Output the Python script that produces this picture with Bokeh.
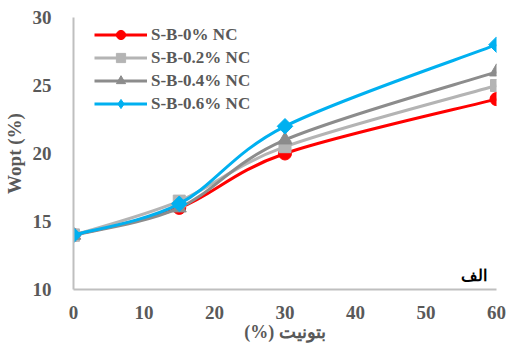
import math
from bokeh.plotting import figure
from bokeh.models import ColumnDataSource, Range1d, Legend, LegendItem, Label, FixedTicker
from bokeh.embed import file_html
from bokeh.resources import INLINE

bentonite = [0, 15, 30, 60]
s0 = [14, 16, 20, 24]
s02 = [14, 16.5, 20.5, 25]
s04 = [14, 16, 21, 26]
s06 = [14, 16.3, 22, 28]
names = ["S-B-0% NC", "S-B-0.2% NC", "S-B-0.4% NC", "S-B-0.6% NC"]
series = [s0, s02, s04, s06]
colors = ["#FF0000", "#B4B4B4", "#8C8C8C", "#00B0F0"]
markers = ["circle", "square", "triangle", "square"]
legend_markers = ["circle", "square", "triangle", "diamond"]
angles = [0, 0, 0, math.pi / 4]
msizes = [13, 12, 14, 11]
legend_sizes = [13, 12, 14, 15]
x_ticks = [0, 10, 20, 30, 40, 50, 60]
y_ticks = [10, 15, 20, 25, 30]

def smooth_segments(xs, ys):
    # Catmull-Rom style Bezier segments (like a spreadsheet "smoothed line")
    n = len(xs)
    out = dict(x0=[], y0=[], x1=[], y1=[], cx0=[], cy0=[], cx1=[], cy1=[])
    for i in range(n - 1):
        xp, yp = (xs[i - 1], ys[i - 1]) if i > 0 else (xs[i], ys[i])
        xn, yn = (xs[i + 2], ys[i + 2]) if i + 2 < n else (xs[i + 1], ys[i + 1])
        out["x0"].append(xs[i]); out["y0"].append(ys[i])
        out["x1"].append(xs[i + 1]); out["y1"].append(ys[i + 1])
        out["cx0"].append(xs[i] + (xs[i + 1] - xp) / 6)
        out["cy0"].append(ys[i] + (ys[i + 1] - yp) / 6)
        out["cx1"].append(xs[i + 1] - (xn - xs[i]) / 6)
        out["cy1"].append(ys[i + 1] - (yn - ys[i]) / 6)
    return out

p = figure(width=511, height=349, output_backend="svg", toolbar_location=None,
           x_range=Range1d(0, 60), y_range=Range1d(10, 30),
           min_border_left=72, min_border_right=15, min_border_top=17, min_border_bottom=60)
p.outline_line_color = None
p.xgrid.grid_line_color = None
p.ygrid.grid_line_color = None
p.background_fill_color = "white"

font = "Liberation Serif"
for ax in (p.xaxis[0], p.yaxis[0]):
    ax.axis_line_color = "#BFBFBF"
    ax.axis_line_width = 2
    ax.major_tick_line_color = None
    ax.minor_tick_line_color = None
    ax.major_label_text_font = font
    ax.major_label_text_font_style = "bold"
    ax.major_label_text_font_size = "19px"
    ax.major_label_text_color = "#595959"
    ax.axis_label_text_font = font
    ax.axis_label_text_font_style = "bold"
    ax.axis_label_text_color = "#595959"
    ax.axis_label_text_font_size = "19px"

p.xaxis.ticker = FixedTicker(ticks=x_ticks)
p.yaxis.ticker = FixedTicker(ticks=y_ticks)
p.xaxis.major_label_standoff = 10
p.yaxis.major_label_standoff = 16
p.xaxis.axis_label = "(%) بتونیت"
p.xaxis.axis_label_standoff = 0
p.xaxis.axis_label_text_font_size = "18px"
p.yaxis.axis_label = "Wopt (%)"
p.yaxis.axis_label_standoff = 5
p.yaxis.axis_label_text_font_size = "19px"

items = []
for name, ys, c, m, lm, a, ms, ls in zip(names, series, colors, markers, legend_markers,
                                          angles, msizes, legend_sizes):
    seg = ColumnDataSource(smooth_segments(bentonite, ys))
    p.bezier(x0="x0", y0="y0", x1="x1", y1="y1", cx0="cx0", cy0="cy0", cx1="cx1", cy1="cy1",
             source=seg, line_color=c, line_width=3)
    ln = p.line(bentonite[:1], ys[:1], line_color=c, line_width=3)
    lg = p.scatter(bentonite[:1], ys[:1], marker=lm, size=ls, fill_color=c, line_color=c)
    p.scatter(bentonite, ys, marker=m, angle=a, size=ms, fill_color=c, line_color=c)
    items.append(LegendItem(label=name, renderers=[ln, lg]))

legend = Legend(items=items, location=(21, 174), background_fill_alpha=0,
                border_line_color=None, padding=0, spacing=0, margin=0,
                glyph_width=53, glyph_height=23, label_height=23, label_standoff=4,
                label_text_font=font, label_text_font_style="bold",
                label_text_font_size="17px", label_text_color="#595959")
p.add_layout(legend, "center")

p.add_layout(Label(x=58.7, y=11.0, text="الف",
                   text_font=font, text_font_style="bold", text_font_size="16px",
                   text_color="black", text_align="right", text_baseline="middle"))

open("out.html", "w").write(file_html(p, INLINE))
